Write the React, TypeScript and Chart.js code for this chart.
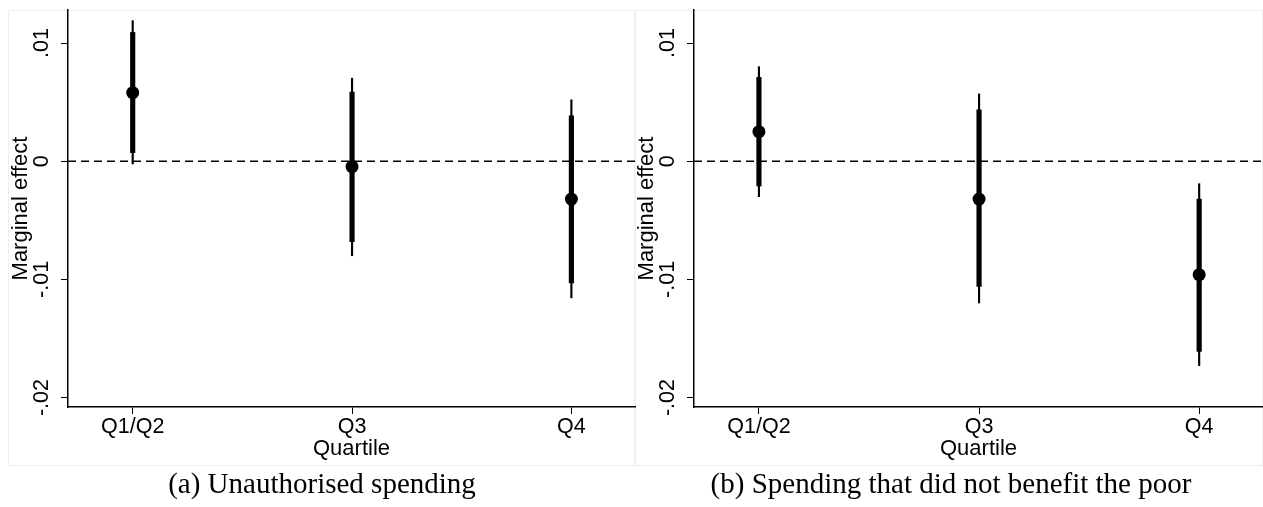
import React, { useEffect, useRef } from "react";
import { Chart, registerables } from "chart.js";

Chart.register(...registerables);

// ---- Data ----
const CATEGORIES = ["Q1/Q2", "Q3", "Q4"];
const X_POS = [1, 2, 3];
const X_MIN = 0.705;
const X_MAX = 3.29;
const Y_MIN = -0.0208;
const Y_MAX = 0.0128;
const Y_TICKS = [-0.02, -0.01, 0, 0.01];
const Y_TICK_LABELS = ["-.02", "-.01", "0", ".01"];

// Panel (a) Unauthorised spending
const A_EST = [0.0058, -0.00046, -0.0032];
const A_CI90_LO = [0.00073, -0.0068, -0.0103];
const A_CI90_HI = [0.0109, 0.00585, 0.00384];
const A_CI95_LO = [-0.00023, -0.008, -0.01156];
const A_CI95_HI = [0.0119, 0.00703, 0.0052];

// Panel (b) Spending that did not benefit the poor
const B_EST = [0.0025, -0.0032, -0.0096];
const B_CI90_LO = [-0.0021, -0.0106, -0.0161];
const B_CI90_HI = [0.0071, 0.00435, -0.0032];
const B_CI95_LO = [-0.003, -0.012, -0.0173];
const B_CI95_HI = [0.008, 0.0057, -0.0019];

const FONT = "'Liberation Sans', Arial, sans-serif";

function makeConfig(est: number[], lo90: number[], hi90: number[], lo95: number[], hi95: number[], padLeft: number, padRight: number): any {
  return {
    type: "bar",
    data: {
      datasets: [
        {
          type: "scatter",
          data: X_POS.map((x, i) => ({ x, y: est[i] })),
          pointRadius: 6.5,
          pointBackgroundColor: "#000",
          pointBorderColor: "#000",
          pointBorderWidth: 0,
          showLine: false,
          order: 0,
        },
        {
          type: "bar",
          data: X_POS.map((x, i) => ({ x, y: [lo90[i], hi90[i]] })),
          backgroundColor: "#000",
          borderWidth: 0,
          barThickness: 4.5,
          grouped: false,
          order: 1,
        },
        {
          type: "bar",
          data: X_POS.map((x, i) => ({ x, y: [lo95[i], hi95[i]] })),
          backgroundColor: "#000",
          borderWidth: 0,
          barThickness: 1.5,
          grouped: false,
          order: 2,
        },
        {
          type: "line",
          data: [
            { x: X_MIN, y: 0 },
            { x: X_MAX, y: 0 },
          ],
          borderColor: "#000",
          borderWidth: 1.5,
          borderDash: [8, 5],
          pointRadius: 0,
          order: 3,
        },
      ],
    },
    options: {
      animation: false,
      responsive: true,
      maintainAspectRatio: false,
      layout: { autoPadding: false, padding: { left: padLeft, right: padRight, top: 10, bottom: 8 } },
      plugins: { legend: { display: false }, tooltip: { enabled: false } },
      scales: {
        x: {
          type: "linear",
          min: X_MIN,
          max: X_MAX,
          offset: false,
          afterBuildTicks: (s: any) => {
            s.ticks = X_POS.map((v) => ({ value: v }));
          },
          afterFit: (s: any) => {
            s.height = 55;
            s.paddingLeft = 0;
            s.paddingRight = 0;
          },
          grid: {
            offset: false,
            drawOnChartArea: false,
            drawTicks: true,
            tickLength: 7,
            tickColor: "#000",
            tickWidth: 1,
          },
          border: { display: true, color: "#000", width: 1.5 },
          ticks: {
            color: "#000",
            font: { family: FONT, size: 21.5 },
            padding: 0,
            maxRotation: 0,
            minRotation: 0,
            autoSkip: false,
            callback: (_v: any, i: number) => CATEGORIES[i],
          },
          title: {
            display: true,
            text: "Quartile",
            color: "#000",
            font: { family: FONT, size: 22 },
            padding: 0,
          },
        },
        y: {
          type: "linear",
          min: Y_MIN,
          max: Y_MAX,
          afterBuildTicks: (s: any) => {
            s.ticks = Y_TICKS.map((v) => ({ value: v }));
          },
          afterFit: (s: any) => {
            s.width = 60;
            s.paddingTop = 0;
            s.paddingBottom = 0;
          },
          grid: {
            drawOnChartArea: false,
            drawTicks: true,
            tickLength: 7,
            tickColor: "#000",
            tickWidth: 1,
          },
          border: { display: true, color: "#000", width: 1.5 },
          ticks: {
            color: "#000",
            font: { family: FONT, size: 21.5 },
            padding: 0,
            minRotation: 90,
            maxRotation: 90,
            crossAlign: "center",
            autoSkip: false,
            callback: (_v: any, i: number) => Y_TICK_LABELS[i],
          },
          title: {
            display: true,
            text: "Marginal effect",
            color: "#000",
            font: { family: FONT, size: 22 },
            padding: 0,
          },
        },
      },
    },
  };
}

function Panel(props: { config: any; left: number; width: number }) {
  const ref = useRef<HTMLCanvasElement>(null);
  useEffect(() => {
    if (!ref.current) return;
    const chart = new Chart(ref.current, props.config);
    return () => chart.destroy();
  }, []);
  return (
    <div style={{ position: "absolute", left: props.left, top: 0, width: props.width, height: 470 }}>
      <canvas ref={ref} />
    </div>
  );
}

const captionStyle: React.CSSProperties = {
  position: "absolute",
  top: 466,
  width: 640,
  textAlign: "center",
  fontFamily: "'Liberation Serif', 'Times New Roman', serif",
  fontSize: 29,
  lineHeight: "34px",
  color: "#000",
  whiteSpace: "nowrap",
};

export default function App() {
  const cfgA = makeConfig(A_EST, A_CI90_LO, A_CI90_HI, A_CI95_LO, A_CI95_HI, 8, 1);
  const cfgB = makeConfig(B_EST, B_CI90_LO, B_CI90_HI, B_CI95_LO, B_CI95_HI, 8, 0);
  return (
    <div style={{ position: "absolute", left: 0, top: 0, width: 1263, height: 507, background: "#fff", overflow: "hidden" }}>
      <div style={{ position: "absolute", left: 8, top: 10, width: 627, height: 456, border: "1px solid #f0f0f0", boxSizing: "border-box" }} />
      <div style={{ position: "absolute", left: 635, top: 10, width: 628, height: 456, border: "1px solid #f0f0f0", boxSizing: "border-box" }} />
      <Panel config={cfgA} left={0} width={636} />
      <Panel config={cfgB} left={626} width={637} />
      <div style={{ ...captionStyle, left: 322 - 320 }}>(a) Unauthorised spending</div>
      <div style={{ ...captionStyle, left: 951 - 320 }}>(b) Spending that did not benefit the poor</div>
    </div>
  );
}
